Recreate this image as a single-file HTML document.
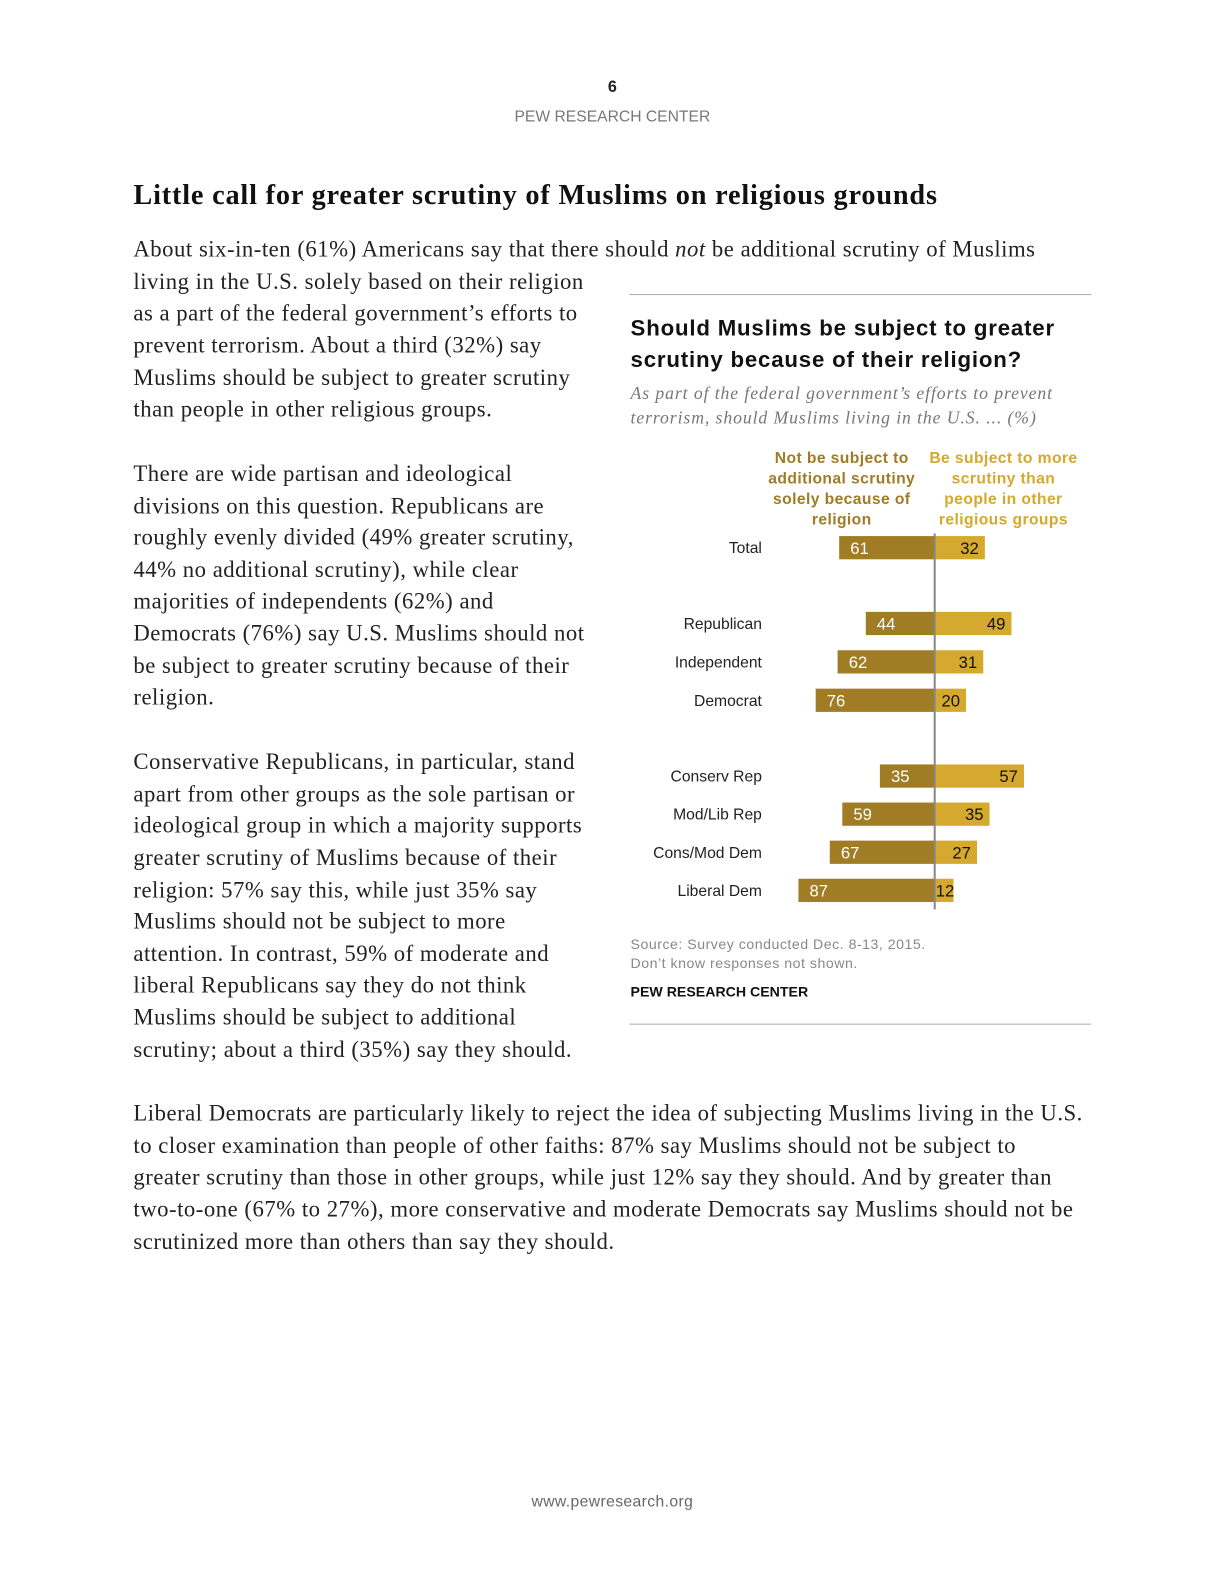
<!DOCTYPE html>
<html><head><meta charset="utf-8">
<style>
html,body{margin:0;padding:0;background:#fff;}
body{width:1224px;height:1584px;overflow:hidden;position:relative;}
#wrap{position:absolute;left:0;top:0;width:1212px;height:1568px;transform:scale(1.0105);transform-origin:0 0;}
.t{position:absolute;white-space:nowrap;}
.serif{font-family:"Liberation Serif",serif;font-size:22.5px;letter-spacing:0.5px;color:#222;line-height:1;}
.sans{font-family:"Liberation Sans",sans-serif;}
</style></head><body>
<div id="wrap">
<div class="t sans" style="left:0;width:1212px;text-align:center;top:78px;font-size:16px;font-weight:bold;color:#222">6</div>
<div class="t sans" style="left:0;width:1212px;text-align:center;top:107px;font-size:15.5px;color:#777">PEW RESEARCH CENTER</div>
<div class="t" style="left:132px;top:178px;font-family:'Liberation Serif',serif;font-weight:bold;font-size:28px;letter-spacing:0.8px;color:#111">Little call for greater scrutiny of Muslims on religious grounds</div>

<div id="lines"></div>

<div style="position:absolute;left:623px;top:291px;width:457px;height:1px;background:#aaa"></div>
<div class="t sans" style="left:624px;top:309px;font-size:22px;letter-spacing:0.8px;font-weight:bold;color:#111;line-height:31px">Should Muslims be subject to greater<br>scrutiny because of their religion?</div>
<div class="t" style="left:624px;top:377px;font-family:'Liberation Serif',serif;font-style:italic;font-size:17.5px;letter-spacing:0.9px;color:#777;line-height:24px">As part of the federal government’s efforts to prevent<br>terrorism, should Muslims living in the U.S. ... (%)</div>
<svg id="chart" style="position:absolute;left:0;top:0" width="1212" height="1000"></svg>
<div class="t sans" style="left:624px;top:925px;font-size:14px;letter-spacing:0.5px;color:#888;line-height:19px">Source: Survey conducted Dec. 8-13, 2015.<br>Don’t know responses not shown.</div>
<div class="t sans" style="left:624px;top:973px;font-size:14px;font-weight:bold;color:#111">PEW RESEARCH CENTER</div>
<div style="position:absolute;left:623px;top:1013px;width:457px;height:1px;background:#aaa"></div>
<div class="t sans" style="left:0;width:1212px;text-align:center;top:1478px;font-size:15.5px;letter-spacing:0.4px;color:#666">www.pewresearch.org</div>
</div>
<script>
const textLines=[
[132,248,'About six-in-ten (61%) Americans say that there should <i>not</i> be additional scrutiny of Muslims'],
[132,280,'living in the U.S. solely based on their religion'],
[132,311,'as a part of the federal government’s efforts to'],
[132,343,'prevent terrorism. About a third (32%) say'],
[132,375,'Muslims should be subject to greater scrutiny'],
[132,406,'than people in other religious groups.'],
[132,470,'There are wide partisan and ideological'],
[132,502,'divisions on this question. Republicans are'],
[132,533,'roughly evenly divided (49% greater scrutiny,'],
[132,565,'44% no additional scrutiny), while clear'],
[132,596,'majorities of independents (62%) and'],
[132,628,'Democrats (76%) say U.S. Muslims should not'],
[132,660,'be subject to greater scrutiny because of their'],
[132,691,'religion.'],
[132,755,'Conservative Republicans, in particular, stand'],
[132,787,'apart from other groups as the sole partisan or'],
[132,818,'ideological group in which a majority supports'],
[132,850,'greater scrutiny of Muslims because of their'],
[132,882,'religion: 57% say this, while just 35% say'],
[132,913,'Muslims should not be subject to more'],
[132,945,'attention. In contrast, 59% of moderate and'],
[132,976,'liberal Republicans say they do not think'],
[132,1008,'Muslims should be subject to additional'],
[132,1040,'scrutiny; about a third (35%) say they should.'],
[132,1103,'Liberal Democrats are particularly likely to reject the idea of subjecting Muslims living in the U.S.'],
[132,1135,'to closer examination than people of other faiths: 87% say Muslims should not be subject to'],
[132,1166,'greater scrutiny than those in other groups, while just 12% say they should. And by greater than'],
[132,1198,'two-to-one (67% to 27%), more conservative and moderate Democrats say Muslims should not be'],
[132,1230,'scrutinized more than others than say they should.']
];
const host=document.getElementById('lines');
textLines.forEach(l=>{
  const d=document.createElement('div');
  d.className='t serif';
  
  
  d.style.left=l[0]+'px';d.style.top=(l[1]-12)+'px';
  d.innerHTML=l[2];host.appendChild(d);
});

const categories=['Total','Republican','Independent','Democrat','Conserv Rep','Mod/Lib Rep','Cons/Mod Dem','Liberal Dem'];
const notSubject=[61,44,62,76,35,59,67,87];
const subject=[32,49,31,20,57,35,27,12];
const rowSlot=[0,2,3,4,6,7,8,9];

const NS='http://www.w3.org/2000/svg';
const svg=document.getElementById('chart');
const axisX=925, unit=1.55;
const x=v=>v*unit;
function yOf(i){const s=rowSlot[i];if(s===0)return 542;if(s<=4)return 617+(s-2)*38;return 768+(s-6)*37.7;}
function el(tag,attrs,txt){const e=document.createElementNS(NS,tag);for(const k in attrs)e.setAttribute(k,attrs[k]);if(txt!==undefined)e.textContent=txt;svg.appendChild(e);return e;}

const hl=['Not be subject to','additional scrutiny','solely because of','religion'];
const hr=['Be subject to more','scrutiny than','people in other','religious groups'];
hl.forEach((t,k)=>{const e=el('text',{x:833,y:458+k*20.3,'text-anchor':'middle','font-family':'Liberation Sans, sans-serif','font-size':'15.5','letter-spacing':'0.4','font-weight':'bold',fill:'#a07c24'},t);
});
hr.forEach((t,k)=>{const e=el('text',{x:993,y:458+k*20.3,'text-anchor':'middle','font-family':'Liberation Sans, sans-serif','font-size':'15.5','letter-spacing':'0.4','font-weight':'bold',fill:'#d4a92e'},t);
});

categories.forEach((c,i)=>{
  const yc=yOf(i), h=23;
  const lab=el('text',{x:754,y:yc+5.5,'text-anchor':'end','font-family':'Liberation Sans, sans-serif','font-size':'15.5',fill:'#222'},c);
  
  
  const wl=x(notSubject[i]);
  const bl=el('rect',{x:axisX-wl,y:yc-h/2,width:wl,height:h,fill:'#a07c24'});
  
  
  const wr=x(subject[i]);
  const br=el('rect',{x:axisX,y:yc-h/2,width:wr,height:h,fill:'#d4a92e'});
  
  
  const tl=el('text',{x:axisX-wl+11,y:yc+6,'font-family':'Liberation Sans, sans-serif','font-size':'16.5',fill:'#fff'},notSubject[i]);
  
  
  const tr=el('text',{x:axisX+wr-6,y:yc+6,'text-anchor':'end','font-family':'Liberation Sans, sans-serif','font-size':'16.5',fill:'#111'},subject[i]);
  
  
  if(wr<28){tr.setAttribute('text-anchor','start');tr.setAttribute('x',axisX+1);}
});
const ax=el('line',{x1:axisX,x2:axisX,y1:528,y2:900,stroke:'#888','stroke-width':2});


</script>
</body></html>
